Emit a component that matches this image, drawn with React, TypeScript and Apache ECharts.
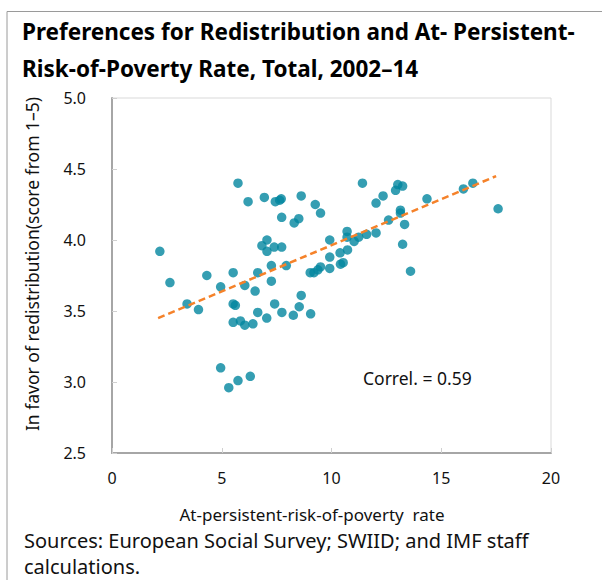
import React, { useEffect, useRef } from "react";
import * as echarts from "echarts";

const povertyRate: number[] = [
  5.74, 6.94, 6.2, 7.44, 7.64, 7.71, 7.73, 2.18, 7.06, 6.83, 7.06, 7.39, 7.73, 7.26, 6.64, 5.52,
  4.32, 2.64, 4.95, 6.05, 7.26, 6.52, 3.42, 3.94, 5.52, 5.62, 7.41, 6.64, 5.52, 5.85, 6.05, 6.42,
  7.05, 7.74, 8.26, 8.53, 8.62, 9.05, 4.95, 5.74, 6.3, 5.32, 11.41, 13.02, 13.24, 12.92, 12.35,
  12.03, 14.35, 16.01, 16.44, 17.59, 13.14, 13.14, 13.33, 12.6, 12.03, 11.6, 11.24, 11.03, 10.71,
  10.71, 10.73, 10.39, 9.92, 9.92, 9.92, 10.41, 10.53, 9.5, 9.38, 9.2, 9.03, 13.24, 13.6, 8.62,
  9.26, 9.5, 8.51, 8.3, 7.94,
];
const redistribution: number[] = [
  4.4, 4.3, 4.27, 4.27, 4.28, 4.29, 4.16, 3.92, 4.0, 3.96, 3.92, 3.95, 3.95, 3.82, 3.77, 3.77,
  3.75, 3.7, 3.67, 3.68, 3.71, 3.64, 3.55, 3.51, 3.55, 3.54, 3.55, 3.49, 3.42, 3.43, 3.4, 3.41,
  3.45, 3.49, 3.47, 3.53, 3.61, 3.48, 3.1, 3.01, 3.04, 2.96, 4.4, 4.39, 4.38, 4.35, 4.31,
  4.26, 4.29, 4.36, 4.4, 4.22, 4.21, 4.19, 4.11, 4.14, 4.05, 4.04, 4.02, 3.99, 4.06,
  4.02, 3.93, 3.91, 4.0, 3.88, 3.8, 3.83, 3.84, 3.81, 3.79, 3.77, 3.77, 3.97, 3.78, 4.31,
  4.25, 4.19, 4.15, 4.12, 3.82,
];
const trendX: number[] = [2.1, 17.5];
const trendY: number[] = [3.45, 4.45];
const xTicks: number[] = [0, 5, 10, 15, 20];
const yTicks: number[] = [2.5, 3.0, 3.5, 4.0, 4.5, 5.0];

const titleLines = [
  "Preferences for Redistribution and At- Persistent-",
  "Risk-of-Poverty Rate, Total, 2002–14",
];
const sourceLines = ["Sources: European Social Survey; SWIID; and IMF staff", "calculations."];
const correlText = "Correl. = 0.59";
const xTitle = "At-persistent-risk-of-poverty  rate";
const yTitle = "In favor of redistribution(score from 1–5)";

const FONT = "'Noto Sans', 'Open Sans', sans-serif";

export default function App() {
  const ref = useRef<HTMLDivElement>(null);
  useEffect(() => {
    if (!ref.current) return;
    const chart = echarts.init(ref.current, undefined, { renderer: "svg" });
    const points = povertyRate.map((x, i) => [x, redistribution[i]]);
    const trend = trendX.map((x, i) => [x, trendY[i]]);
    chart.setOption({
      animation: false,
      backgroundColor: "#ffffff",
      textStyle: { fontFamily: FONT },
      grid: {
        left: 112,
        right: 51,
        top: 98,
        bottom: 127,
        show: true,
        borderColor: "#d9d9d9",
        borderWidth: 1,
      },
      xAxis: {
        type: "value",
        min: xTicks[0],
        max: xTicks[xTicks.length - 1],
        interval: 5,
        splitLine: { show: false },
        axisLine: { lineStyle: { color: "#a6a6a6", width: 2 } },
        axisTick: { inside: true, length: 5, lineStyle: { color: "#d0d0d0" } },
        axisLabel: { color: "#111", fontSize: 16, margin: 17, fontFamily: FONT },
      },
      yAxis: {
        type: "value",
        min: yTicks[0],
        max: yTicks[yTicks.length - 1],
        interval: 0.5,
        splitLine: { show: false },
        axisLine: { show: true, lineStyle: { color: "#a6a6a6", width: 2 } },
        axisTick: { show: true, inside: true, length: 5, lineStyle: { color: "#d0d0d0" } },
        axisLabel: {
          color: "#111",
          fontSize: 16,
          margin: 26,
          fontFamily: FONT,
          formatter: (v: number) => v.toFixed(1),
        },
      },
      series: [
        {
          type: "scatter",
          data: points,
          symbolSize: 9.5,
          itemStyle: { color: "#03869f" },
          z: 2,
        },
        {
          type: "line",
          data: trend,
          symbol: "none",
          lineStyle: { color: "#f5822a", width: 2.5, type: [7, 4] },
          z: 3,
        },
      ],
      graphic: [
        {
          type: "line",
          shape: { x1: 7, y1: 11.5, x2: 602, y2: 11.5 },
          style: { stroke: "#9a9a9a", lineWidth: 1 },
        },
        {
          type: "line",
          shape: { x1: 7, y1: 11.5, x2: 7, y2: 580 },
          style: { stroke: "#9a9a9a", lineWidth: 1 },
        },
        {
          type: "text",
          x: 22,
          y: 31,
          style: {
            text: titleLines[0],
            font: `bold 22.5px ${FONT}`,
            fill: "#000",
            verticalAlign: "middle",
          },
        },
        {
          type: "text",
          x: 22,
          y: 68,
          style: {
            text: titleLines[1],
            font: `bold 22.5px ${FONT}`,
            fill: "#000",
            verticalAlign: "middle",
          },
        },
        {
          type: "text",
          x: 363,
          y: 378,
          style: {
            text: correlText,
            font: `17.5px ${FONT}`,
            fill: "#111",
            verticalAlign: "middle",
          },
        },
        {
          type: "text",
          x: 312,
          y: 514,
          style: {
            text: xTitle,
            font: `17px ${FONT}`,
            fill: "#111",
            align: "center",
            verticalAlign: "middle",
          },
        },
        {
          type: "text",
          x: 32,
          y: 264,
          rotation: Math.PI / 2,
          style: {
            text: yTitle,
            font: `17.5px ${FONT}`,
            fill: "#111",
            align: "center",
            verticalAlign: "middle",
          },
        },
        {
          type: "text",
          x: 24,
          y: 540,
          style: {
            text: sourceLines[0],
            font: `20px ${FONT}`,
            fill: "#111",
            verticalAlign: "middle",
          },
        },
        {
          type: "text",
          x: 24,
          y: 566,
          style: {
            text: sourceLines[1],
            font: `20px ${FONT}`,
            fill: "#111",
            verticalAlign: "middle",
          },
        },
      ],
    });
    return () => chart.dispose();
  }, []);
  return (
    <div
      ref={ref}
      style={{ position: "fixed", left: 0, top: 0, width: 602, height: 580 }}
    />
  );
}
